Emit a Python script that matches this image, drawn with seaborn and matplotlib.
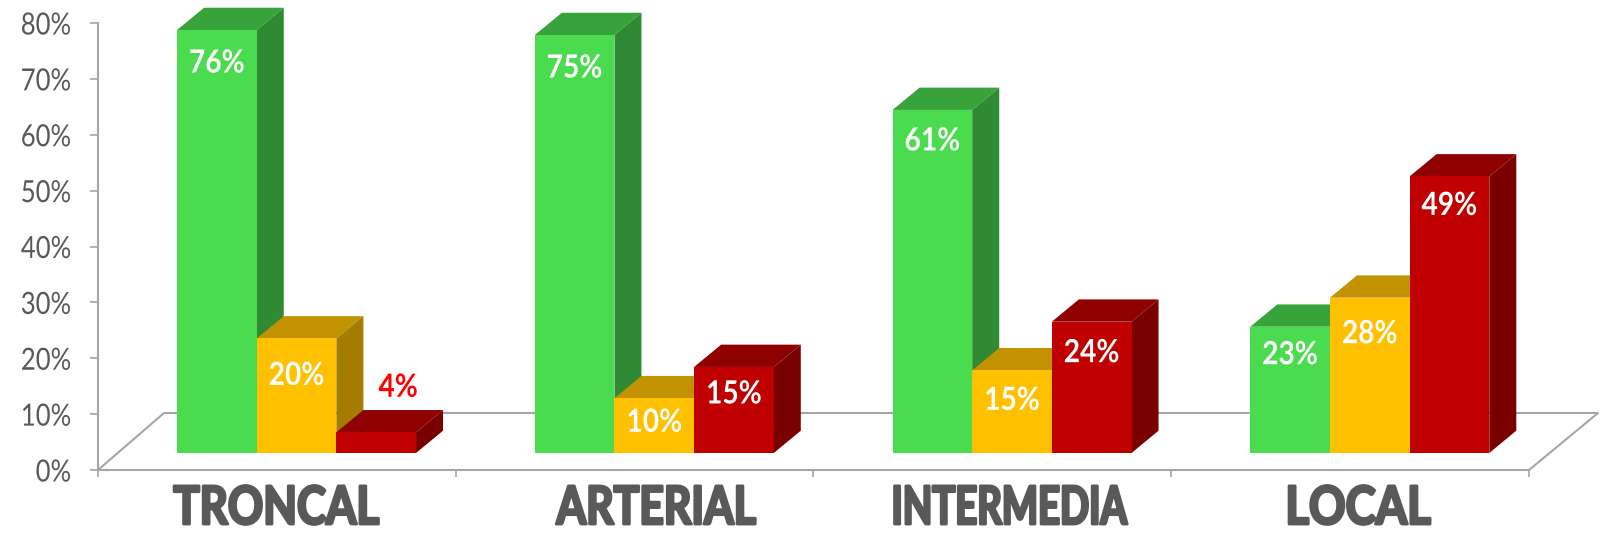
import matplotlib
matplotlib.use("Agg")
import matplotlib.pyplot as plt
import matplotlib.patheffects as pe
from matplotlib.patches import Polygon
from matplotlib.transforms import Affine2D
import pandas as pd
import seaborn as sns

# datos
categorias = ["TRONCAL", "ARTERIAL", "INTERMEDIA", "LOCAL"]
estados = ["Bueno", "Regular", "Malo"]
bueno = [75.7, 74.8, 61.4, 22.6]
regular = [20.5, 9.8, 14.8, 27.8]
malo = [3.7, 15.4, 23.5, 49.5]
# lo que dicen los rotulos (redondeado en el original)
rotulos = ["76%", "75%", "61%", "23%",
           "20%", "10%", "15%", "28%",
           "4%", "15%", "24%", "49%"]
ticks_y = [0, 10, 20, 30, 40, 50, 60, 70, 80]

color_frente = ["#4ADC4E", "#FFC000", "#C00000"]
color_techo = ["#38A33B", "#C29200", "#8F0000"]
color_lado = ["#2F8A33", "#A37C00", "#7A0000"]
GRIS = "#A6A6A6"
TEXTO = "#595959"


class Estrecho(pe.AbstractPathEffect):
    """Angosta el texto en x alrededor de cx (pixeles), no hay fuente angosta instalada."""

    def __init__(self, sx, cx, grosor=0):
        super().__init__()
        self.sx = sx
        self.cx = cx
        self.grosor = grosor

    def draw_path(self, renderer, gc, tpath, affine, rgbFace=None):
        t = affine + Affine2D().translate(-self.cx, 0).scale(self.sx, 1).translate(self.cx, 0)
        if self.grosor:
            gc0 = renderer.new_gc()
            gc0.copy_properties(gc)
            gc0.set_linewidth(self.grosor)
            gc0.set_foreground(rgbFace)
            renderer.draw_path(gc0, tpath, t, rgbFace)
            gc0.restore()
        else:
            renderer.draw_path(gc, tpath, t, rgbFace)


df = pd.DataFrame({
    "categoria": categorias * 3,
    "estado": [e for e in estados for _ in categorias],
    "valor": bueno + regular + malo,
})

sns.set_theme(style="white")
plt.rcParams["font.family"] = ["Lato", "DejaVu Sans"]

W, H = 1600, 534
fig = plt.figure(figsize=(W / 100, H / 100), dpi=100, facecolor="white")
ax = fig.add_axes([98 / W, 1 - 470 / H, (1529 - 98) / W, (470 - 23) / H])

sns.barplot(data=df, x="categoria", y="valor", hue="estado", hue_order=estados,
            palette=color_frente, width=0.668, gap=0, legend=False, ax=ax,
            saturation=1, linewidth=0)

ax.set_xlim(-0.555, 3.445)
ax.set_ylim(0, 80)
px_x = 4.0 / (1529 - 98)
px_y = 80.0 / (470 - 23)
base = 17 * px_y          # la base de las barras esta sobre el piso
dx = 27 * px_x
dy = 22.3 * px_y

# piso en perspectiva, detras de las barras
fx0, fx1 = ax.get_xlim()
piso = [(fx0, 0), (fx0 + 66 * px_x, 57 * px_y), (fx1 + 69 * px_x, 57 * px_y), (fx1, 0)]
ax.plot(*zip(*piso), color=GRIS, lw=1.5, clip_on=False, zorder=1)

# ajuste vertical de cada rotulo, en pixeles (estan puestos a mano en el original)
ajuste = [0, 0, 2, 5,
          -4, 9, 3, -3,
          -3, 6, 2, 4]


def texto_barra(x, y, rotulo, color):
    cx = ax.transData.transform((x, y))[0]
    ax.text(x, y, rotulo, color=color, ha="center", va="center", fontsize=23,
            fontweight="bold", zorder=30, path_effects=[Estrecho(0.88, cx)])


# caras 3D de cada barra
barras = [p for p in ax.patches if p.get_height() > 0]
for i, p in enumerate(barras):
    n = i // len(categorias)
    x0 = p.get_x()
    x1 = x0 + p.get_width()
    h = p.get_height()
    p.set_y(base)
    p.set_zorder(4 + 3 * n + 0.2)
    top = base + h
    ax.add_patch(Polygon([(x0, top), (x0 + dx, top + dy), (x1 + dx, top + dy), (x1, top)],
                         fc=color_techo[n], ec="none", zorder=4 + 3 * n, clip_on=False))
    ax.add_patch(Polygon([(x1, base), (x1 + dx, base + dy), (x1 + dx, top + dy), (x1, top)],
                         fc=color_lado[n], ec="none", zorder=4 + 3 * n, clip_on=False))
    # etiqueta
    if h < 5:
        texto_barra((x0 + x1) / 2 + 22 * px_x, top + 8.6 + ajuste[i] * px_y, rotulos[i], "#FF0000")
    else:
        texto_barra((x0 + x1) / 2, top - 33 * px_y + ajuste[i] * px_y, rotulos[i], "white")

# ejes
sns.despine(ax=ax)
for s in ["left", "bottom"]:
    ax.spines[s].set_color(GRIS)
    ax.spines[s].set_linewidth(1.5)
ax.set_xlabel("")
ax.set_ylabel("")
ax.set_yticks(ticks_y)
ax.set_yticklabels([f"{v}%" for v in ticks_y], color=TEXTO, fontsize=22)
ax.set_xticks([fx0 + k for k in range(5)])
ax.set_xticklabels([])
ax.tick_params(axis="y", length=6, width=1.2, color=GRIS, pad=13.4, left=True)
ax.tick_params(axis="x", length=5, width=1.2, color=GRIS, bottom=True)
for t in ax.get_yticklabels():
    t.set_path_effects([Estrecho(0.84, 71)])

# nombres de categoria, no quedan centrados en el grupo
etiqueta_x = [-0.057, 1.005, 1.992, 2.967]
angosto = [0.83, 0.81, 0.725, 0.86]
for x, nombre, sx in zip(etiqueta_x, categorias, angosto):
    cx = ax.transData.transform((x, 0))[0]
    ax.text(x, -6.9, nombre, ha="center", va="center", color=TEXTO, fontsize=38,
            fontweight="bold", clip_on=False, path_effects=[Estrecho(sx, cx, grosor=2.0)])

fig.savefig("out.png", dpi=100, facecolor="white")
